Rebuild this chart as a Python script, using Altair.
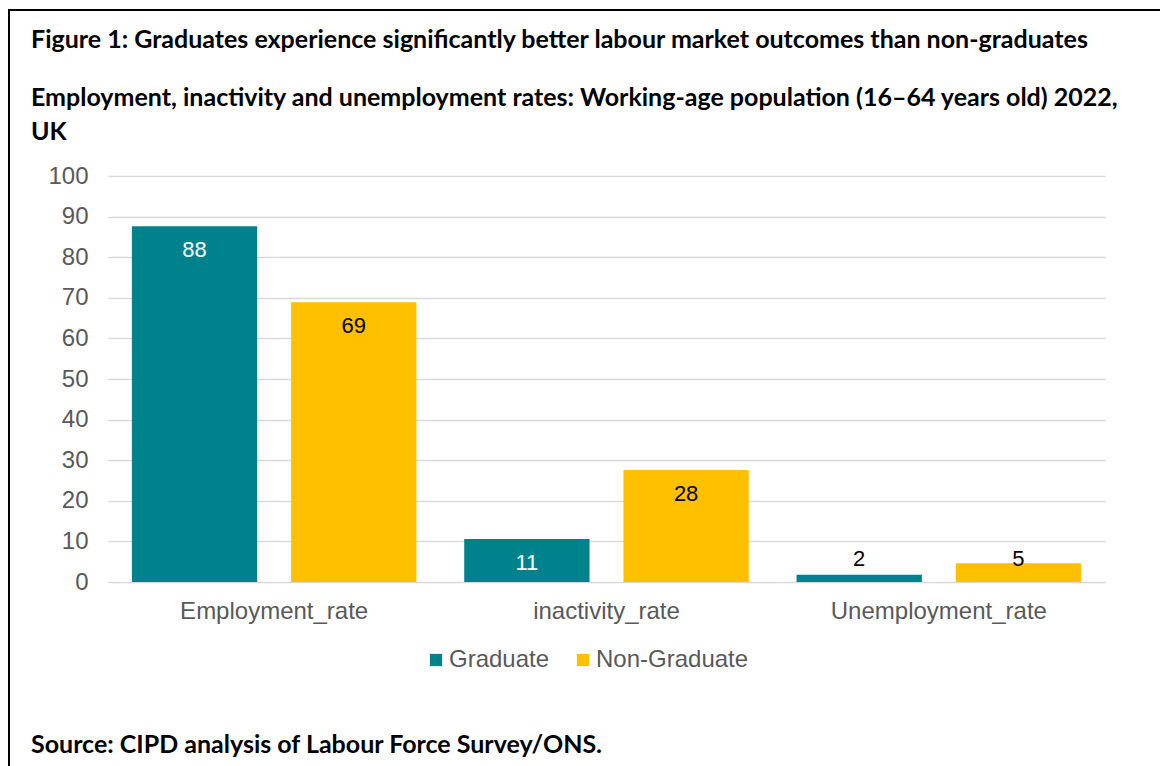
import altair as alt
import pandas as pd

categories = ["Employment_rate", "inactivity_rate", "Unemployment_rate"]
series = ["Graduate", "Non-Graduate"]
graduate = [87.6, 10.6, 1.8]
non_graduate = [68.9, 27.6, 4.6]
y_ticks = [0, 10, 20, 30, 40, 50, 60, 70, 80, 90, 100]
colors = ["#00828C", "#FFC000"]

title_lines = [
    "Figure 1: Graduates experience significantly better labour market outcomes than non-graduates",
    "Employment, inactivity and unemployment rates: Working-age population (16\u201364 years old) 2022,",
    "UK",
    "Source: CIPD analysis of Labour Force Survey/ONS.",
]
title_y = [-136, -78, -44, 569]

rows = []
for i, c in enumerate(categories):
    rows.append({"category": c, "series": series[0], "value": graduate[i]})
    rows.append({"category": c, "series": series[1], "value": non_graduate[i]})
df = pd.DataFrame(rows)

AX_FONT = "Liberation Sans"
T_FONT = "Lato"
GRAY = "#595959"

x_enc = alt.X("category:N", sort=categories, title=None,
              scale=alt.Scale(paddingInner=0, paddingOuter=0),
              axis=alt.Axis(labelAngle=0, labelFont=AX_FONT, labelFontSize=24,
                            labelColor=GRAY, labelPadding=17, ticks=False,
                            domain=False, labelLimit=0, grid=False))
xo_enc = alt.XOffset("series:N", sort=series,
                     scale=alt.Scale(paddingInner=0.213, paddingOuter=0.15))
y_enc = alt.Y("value:Q", title=None,
              scale=alt.Scale(domain=[0, 100], nice=False),
              axis=alt.Axis(values=y_ticks, labelFont=AX_FONT, labelFontSize=24,
                            labelColor=GRAY, labelPadding=20, ticks=False,
                            domain=False, grid=True, gridColor="#d9d9d9",
                            gridWidth=1.5))

base = alt.Chart(df)

bars = base.mark_bar().encode(
    x=x_enc, xOffset=xo_enc, y=y_enc,
    color=alt.Color("series:N", sort=series,
                    scale=alt.Scale(domain=series, range=colors),
                    legend=alt.Legend(title=None, orient="none", direction="horizontal",
                                      legendX=316, legendY=472,
                                      symbolType="square", symbolSize=150,
                                      symbolStrokeWidth=0, labelFont=AX_FONT,
                                      labelFontSize=24, labelColor=GRAY,
                                      labelOffset=1, columnPadding=21)),
)

inside = base.transform_filter("datum.value >= 8").mark_text(
    font=AX_FONT, fontSize=22, baseline="top", dy=14
).encode(
    x=alt.X("category:N", sort=categories), xOffset=alt.XOffset("series:N", sort=series),
    y="value:Q",
    text=alt.Text("value:Q", format=".0f"),
    color=alt.condition("datum.series == 'Graduate'", alt.value("white"), alt.value("black")),
)

outside = base.transform_joinaggregate(
    gmax="max(value)", groupby=["category"]
).transform_filter("datum.value < 8").mark_text(
    font=AX_FONT, fontSize=22, baseline="middle", dy=-4, color="black"
).encode(
    x=alt.X("category:N", sort=categories), xOffset=alt.XOffset("series:N", sort=series),
    y="gmax:Q",
    text=alt.Text("value:Q", format=".0f"),
)

titles = alt.Chart(pd.DataFrame({"t": title_lines, "py": title_y})).mark_text(
    font=T_FONT, fontSize=25, fontWeight="bold", align="left", baseline="middle", color="black"
).encode(x=alt.value(-77), y=alt.Y("py:Q", scale=None), text="t:N")

frame = alt.Chart(pd.DataFrame({"t": [0]})).mark_rect(
    fillOpacity=0, stroke="black", strokeWidth=2
).encode(x=alt.value(-99), x2=alt.value(1080), y=alt.value(-166), y2=alt.value(620))

chart = alt.layer(frame, bars, inside, outside, titles).properties(
    width=997, height=406,
    background="white",
    autosize=alt.AutoSizeParams(type="none"),
    padding={"left": 108, "top": 176, "right": 55, "bottom": 184},
).configure_view(stroke="transparent", strokeWidth=0)

chart.save("out.html", embed_options={"renderer": "svg", "actions": False})
